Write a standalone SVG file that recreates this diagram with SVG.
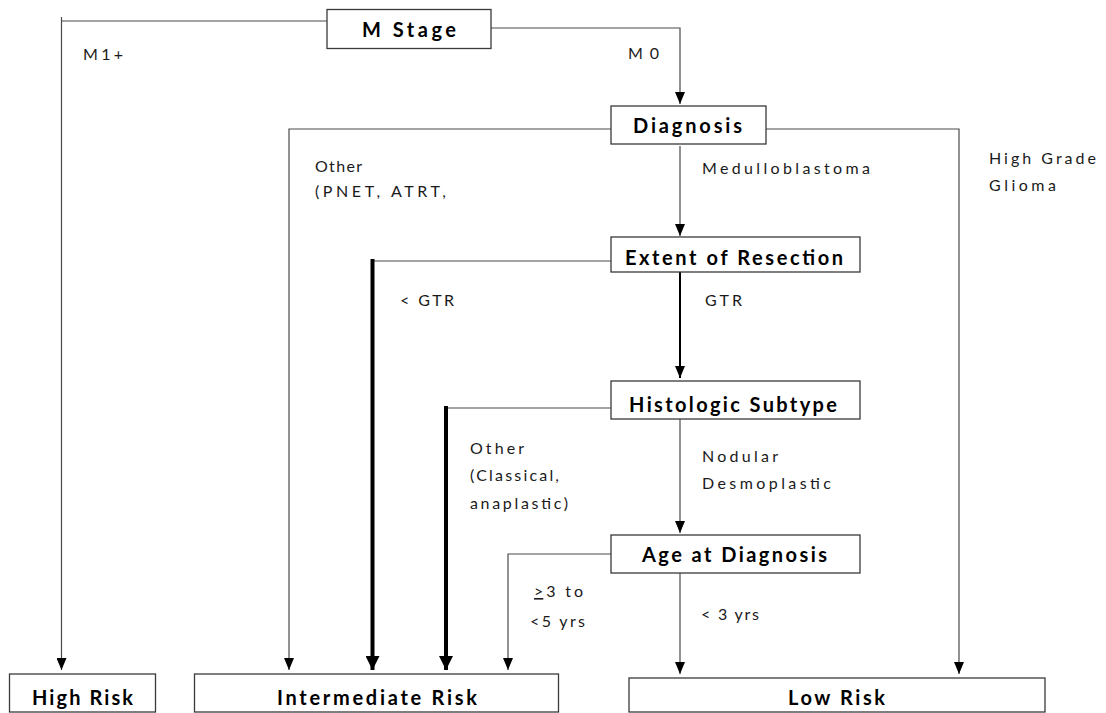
<svg xmlns="http://www.w3.org/2000/svg" width="1106" height="713" viewBox="0 0 1106 713">
<style>
.box{fill:#fff;stroke:#3a3a3a;stroke-width:1.3}
.bt{font-family:Lato,"Liberation Sans",sans-serif;font-weight:bold;font-size:20px;fill:#000}
.lt{font-family:Lato,"Liberation Sans",sans-serif;font-size:16px;fill:#1a1a1a}
.thin{fill:none;stroke:#4a4a4a;stroke-width:1.2}
.thick{fill:none;stroke:#000;stroke-width:4}
.mid{fill:none;stroke:#000;stroke-width:2}
</style>
<defs>
<marker id="a" markerUnits="userSpaceOnUse" markerWidth="12" markerHeight="10" refX="12" refY="5" orient="auto" viewBox="0 0 12 10"><path d="M0,0 L12,5 L0,10 Z" fill="#000"/></marker>
<marker id="ab" markerUnits="userSpaceOnUse" markerWidth="14" markerHeight="14" refX="14" refY="7" orient="auto" viewBox="0 0 14 14"><path d="M0,0 L14,7 L0,14 Z" fill="#000"/></marker>
</defs>
<g id="connectors">
<path class="thin" d="M327,21 H61.5"/>
<path class="thin" d="M61.5,17 V670" marker-end="url(#a)"/>
<path class="thin" d="M491,28 H680 V104" marker-end="url(#a)"/>
<path class="thin" d="M611,129 H289 V670" marker-end="url(#a)"/>
<path class="thin" d="M766,129 H959 V674" marker-end="url(#a)"/>
<path class="thin" d="M680,146 V236" marker-end="url(#a)"/>
<path class="thin" d="M611,261 H372.5"/>
<path class="thick" d="M372.5,259 V670" marker-end="url(#ab)"/>
<path class="mid" d="M680,272 V378" marker-end="url(#a)"/>
<path class="thin" d="M611,408 H446"/>
<path class="thick" d="M446,406 V670" marker-end="url(#ab)"/>
<path class="thin" d="M680,419 V533" marker-end="url(#a)"/>
<path class="thin" d="M611,554 H508 V670" marker-end="url(#a)"/>
<path class="thin" d="M680,573 V674" marker-end="url(#a)"/>
</g>
<g id="labels">
<text class="lt" x="83" y="60" textLength="40" lengthAdjust="spacing">M1+</text>
<text class="lt" x="628" y="59" textLength="31" lengthAdjust="spacing">M0</text>
<text class="lt" x="315" y="172" textLength="47" lengthAdjust="spacing">Other</text>
<text class="lt" x="315" y="197" textLength="131" lengthAdjust="spacing">(PNET, ATRT,</text>
<text class="lt" x="702" y="174" textLength="168" lengthAdjust="spacing">Medulloblastoma</text>
<text class="lt" x="989" y="164" textLength="107" lengthAdjust="spacing">High Grade</text>
<text class="lt" x="989" y="191" textLength="67" lengthAdjust="spacing">Glioma</text>
<text class="lt" x="400" y="306" textLength="54" lengthAdjust="spacing">&lt; GTR</text>
<text class="lt" x="705" y="306" textLength="37" lengthAdjust="spacing">GTR</text>
<text class="lt" x="470" y="454" textLength="54" lengthAdjust="spacing">Other</text>
<text class="lt" x="470" y="481" textLength="89" lengthAdjust="spacing">(Classical,</text>
<text class="lt" x="470" y="509" textLength="98" lengthAdjust="spacing">anaplastic)</text>
<text class="lt" x="702" y="462" textLength="76" lengthAdjust="spacing">Nodular</text>
<text class="lt" x="702" y="489" textLength="129" lengthAdjust="spacing">Desmoplastic</text>
<text class="lt" x="534" y="597" textLength="49" lengthAdjust="spacing"><tspan text-decoration="underline">&gt;</tspan>3 to</text>
<text class="lt" x="530" y="627" textLength="55" lengthAdjust="spacing">&lt;5 yrs</text>
<text class="lt" x="701" y="620" textLength="58" lengthAdjust="spacing">&lt; 3 yrs</text>
</g>
<g id="m-stage"><rect class="box" x="327" y="9.5" width="164" height="39"/><text class="bt" x="362" y="37" textLength="94" lengthAdjust="spacing">M Stage</text></g>
<g id="diagnosis"><rect class="box" x="611" y="106" width="155" height="38"/><text class="bt" x="633" y="133" textLength="109" lengthAdjust="spacing">Diagnosis</text></g>
<g id="extent"><rect class="box" x="611" y="237" width="249" height="35"/><text class="bt" x="625" y="265" textLength="218" lengthAdjust="spacing">Extent of Resection</text></g>
<g id="histologic"><rect class="box" x="611" y="381" width="249" height="38"/><text class="bt" x="629" y="412" textLength="208" lengthAdjust="spacing">Histologic Subtype</text></g>
<g id="age"><rect class="box" x="611" y="535" width="249" height="38"/><text class="bt" x="642" y="562" textLength="185" lengthAdjust="spacing">Age at Diagnosis</text></g>
<g id="high-risk"><rect class="box" x="9.5" y="674" width="146" height="38"/><text class="bt" x="32" y="705" textLength="101" lengthAdjust="spacing">High Risk</text></g>
<g id="intermediate-risk"><rect class="box" x="194.5" y="674" width="364" height="38"/><text class="bt" x="277" y="705" textLength="200" lengthAdjust="spacing">Intermediate Risk</text></g>
<g id="low-risk"><rect class="box" x="629" y="678" width="416" height="34"/><text class="bt" x="788" y="705" textLength="97" lengthAdjust="spacing">Low Risk</text></g>
</svg>
